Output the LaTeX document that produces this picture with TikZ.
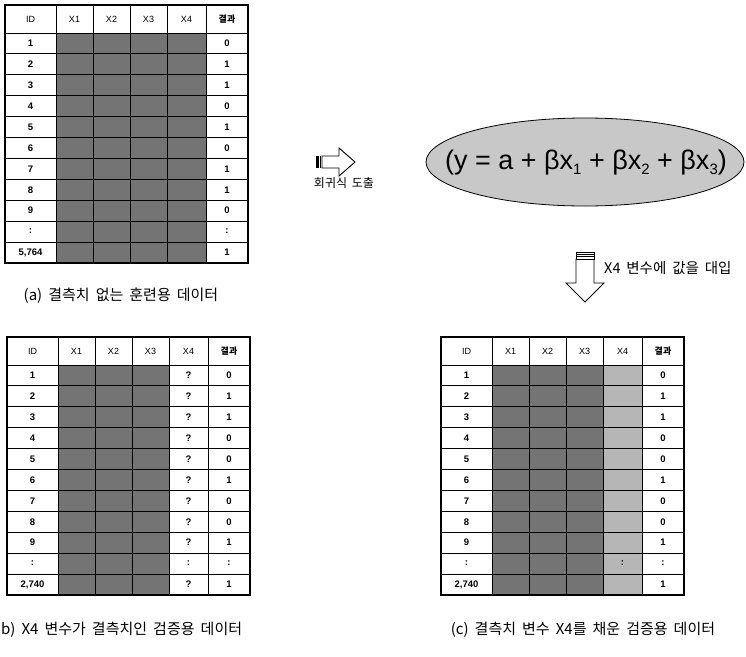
\documentclass[tikz,border=0pt]{standalone}
\usepackage{fontspec}
\setmainfont{Liberation Sans}
\newfontfamily\kr{Noto Sans CJK KR}[WordSpace=1.8]
\usetikzlibrary{shapes.geometric}
\definecolor{shadeD}{HTML}{747474}
\definecolor{shadeL}{HTML}{B6B6B6}
\definecolor{ellF}{HTML}{C8C8C8}
\tikzset{
  cellbase/.style={draw=black, line width=0.9pt, inner sep=0pt, font=\bfseries\fontsize{9.5}{10}\selectfont},
  wcell/.style={cellbase, fill=white},
  dcell/.style={cellbase, fill=shadeD},
  lcell/.style={cellbase, fill=shadeL},
  hcell/.style={cellbase, fill=white, font=\fontsize{9}{10}\selectfont},
  frame/.style={draw=black, line width=2.2pt},
  caption/.style={font=\kr\fontsize{15}{17}\selectfont, inner sep=0pt},
  blockarrow/.style={draw=black, line width=0.9pt, fill=white, line join=miter},
}
\newcommand\sbx[1]{\raisebox{-0.35ex}{\fontsize{15}{15}\selectfont #1}}
\newcommand\mktable[5]{%
  \begin{scope}[shift={(#2,#3)}]
    \foreach \L/\W/\T [count=\c] in {0/51/ID,51/37/X1,88/37/X2,125/37/X3,162/39/X4,201/42/{\kr\bfseries 결과}}{
      \node[hcell, minimum width=\W, minimum height=28] (#1-h\c) at (\L+\W/2,14) {\T};
    }
    \foreach \id/\xf/\res [count=\r] in {#5}{
      \pgfmathsetmacro\yc{28+(\r-0.5)*20.9}
      \node[wcell, minimum width=51, minimum height=20.9] (#1-\r-1) at (25.5,\yc) {\id};
      \node[dcell, minimum width=37, minimum height=20.9] (#1-\r-2) at (69.5,\yc) {};
      \node[dcell, minimum width=37, minimum height=20.9] (#1-\r-3) at (106.5,\yc) {};
      \node[dcell, minimum width=37, minimum height=20.9] (#1-\r-4) at (143.5,\yc) {};
      \node[#4, minimum width=39, minimum height=20.9] (#1-\r-5) at (181.5,\yc) {\xf};
      \node[wcell, minimum width=42, minimum height=20.9] (#1-\r-6) at (222,\yc) {\res};
    }
    \draw[frame] (0,0) rectangle (243,257.9);
  \end{scope}}
\begin{document}
\begin{tikzpicture}[x=1pt,y=-1pt]
\useasboundingbox (0,0) rectangle (746,656);
\fill[white] (0,0) rectangle (746,656);

% table (a)
\mktable{ta}{5}{5}{dcell}{1/{}/0,2/{}/1,3/{}/1,4/{}/0,5/{}/1,6/{}/0,7/{}/1,8/{}/1,9/{}/0,:/{}/:,{5,764}/{}/1}
\node[caption] (capa) at (121,296) {(a) 결측치 없는 훈련용 데이터};

% table (b)
\mktable{tb}{7}{337}{wcell}{1/?/0,2/?/1,3/?/1,4/?/0,5/?/0,6/?/1,7/?/0,8/?/0,9/?/1,:/:/:,{2,740}/?/1}
\node[caption, anchor=west] (capb) at (1,630) {b) X4 변수가 결측치인 검증용 데이터};

% table (c)
\mktable{tc}{441}{337}{lcell}{1/{}/0,2/{}/1,3/{}/1,4/{}/0,5/{}/0,6/{}/1,7/{}/0,8/{}/0,9/{}/1,:/:/:,{2,740}/{}/1}
\node[caption] (capc) at (583,630) {(c) 결측치 변수 X4를 채운 검증용 데이터};

% ellipse with regression formula
\node[ellipse, draw=black, line width=0.8pt, fill=ellF, minimum width=318, minimum height=88, inner sep=0pt] (eq) at (585,162) {};
\node[inner sep=0pt, font=\fontsize{27}{30}\selectfont] (eqtext) at (586,163) {(y = a + βx\sbx{1} + βx\sbx{2} + βx\sbx{3})};

% right block arrow
\draw[blockarrow] (322,156) -- (339,156) -- (339,148) -- (355,162) -- (339,176) -- (339,168) -- (322,168) -- cycle;
\fill[black] (316,156) rectangle (319,168);
\draw[line width=0.8pt] (320.5,156) -- (320.5,168);
\node[font=\kr\fontsize{12}{14}\selectfont, inner sep=0pt] (lblr) at (344,183) {회귀식 도출};

% down block arrow
\draw[blockarrow] (576,259) -- (594,259) -- (594,283) -- (604,283) -- (585,302) -- (566,283) -- (576,283) -- cycle;
\draw[blockarrow] (576,252) rectangle (594,259);
\draw[line width=0.7pt] (576,254.3) -- (594,254.3) (576,256.6) -- (594,256.6);
\node[font=\kr\fontsize{14.5}{16}\selectfont, inner sep=0pt, anchor=west] (lbld) at (604,268) {X4 변수에 값을 대입};
\end{tikzpicture}
\end{document}
